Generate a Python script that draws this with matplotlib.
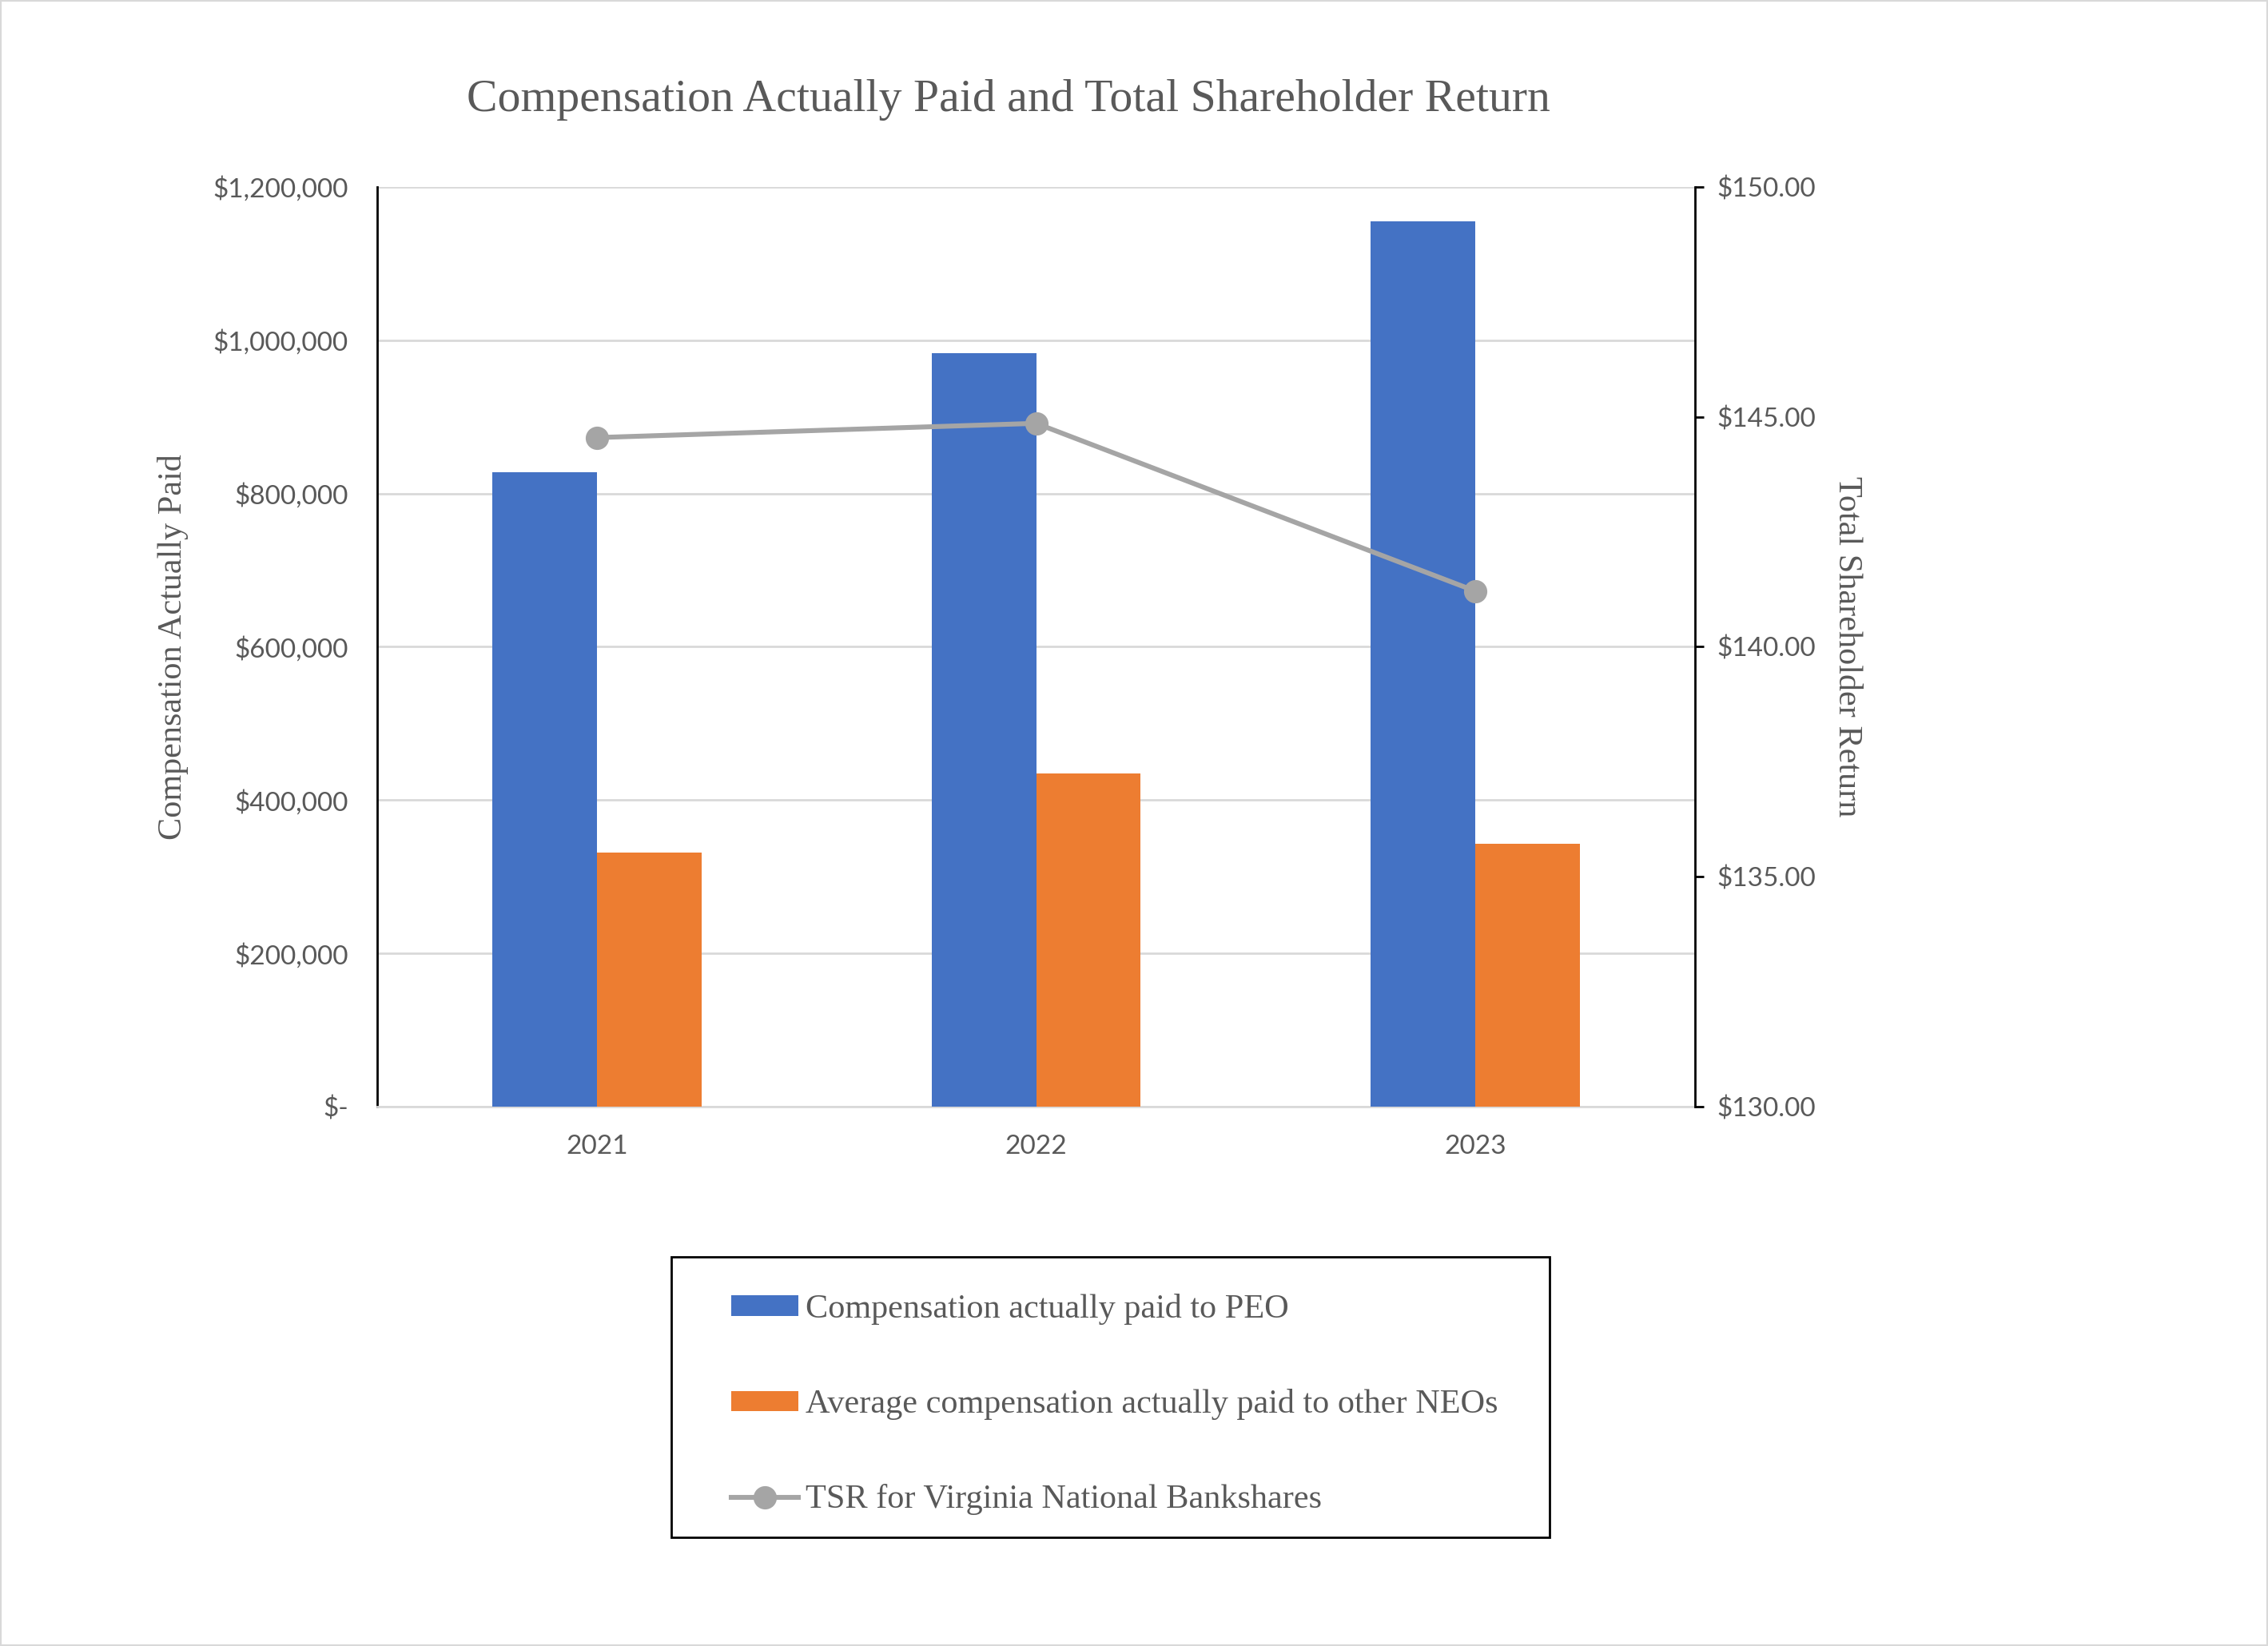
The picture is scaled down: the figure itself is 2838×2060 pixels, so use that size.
import matplotlib
matplotlib.use("Agg")
import matplotlib.pyplot as plt
import numpy as np
from matplotlib.patches import Rectangle, Patch
from matplotlib.lines import Line2D
from matplotlib.ticker import FuncFormatter

years = ["2021", "2022", "2023"]
peo_cap = [828000, 983000, 1155000]
neo_avg_cap = [332000, 435000, 343000]
tsr = [144.55, 144.86, 141.21]

left_ticks = [0, 200000, 400000, 600000, 800000, 1000000, 1200000]
right_ticks = [130, 135, 140, 145, 150]

BLUE = "#4472C4"
ORANGE = "#ED7D31"
GRAY = "#A5A5A5"
TXT = "#595959"
GRID = "#D9D9D9"
SERIF = ["Liberation Serif", "DejaVu Serif"]
SANS = ["Lato", "DejaVu Sans"]

fig = plt.figure(figsize=(2838 / 200, 2060 / 200), dpi=200)
fig.patch.set_facecolor("white")
fig.patches.append(Rectangle((0, 0), 1, 1, transform=fig.transFigure, fill=False,
                             edgecolor=GRID, linewidth=1.5))

ax = fig.add_axes([0.1663, 0.3277, 0.7474 - 0.1663, 0.8864 - 0.3277])
x = np.arange(len(years))
w = 0.238
ax.bar(x - w / 2, peo_cap, width=w, color=BLUE, zorder=3)
ax.bar(x + w / 2, neo_avg_cap, width=w, color=ORANGE, zorder=3)
ax.set_xlim(-0.5, 2.5)
ax.set_ylim(0, 1200000)
ax.set_yticks(left_ticks)
ax.yaxis.set_major_formatter(FuncFormatter(lambda v, p: "$-" if v == 0 else "${:,.0f}".format(v)))
ax.set_xticks(x)
ax.set_xticklabels(years)
ax.grid(axis="y", color=GRID, linewidth=1.0, zorder=0)
ax.set_axisbelow(True)
for s in ["top", "right"]:
    ax.spines[s].set_visible(False)
ax.spines["left"].set_color("black")
ax.spines["left"].set_linewidth(1.0)
ax.spines["bottom"].set_color(GRID)
ax.spines["bottom"].set_linewidth(1.0)
ax.tick_params(axis="y", length=0, pad=13, labelsize=12, labelcolor=TXT)
ax.tick_params(axis="x", length=0, pad=12.5, labelsize=12, labelcolor=TXT)
for lab in ax.get_xticklabels() + ax.get_yticklabels():
    lab.set_family(SANS)
ax.set_ylabel("Compensation Actually Paid", family=SERIF, fontsize=15.2, color=TXT, labelpad=11)

ax2 = ax.twinx()
ax2.plot(x, tsr, color=GRAY, linewidth=2.2, marker="o", markersize=9.5, zorder=5)
ax2.set_ylim(130, 150)
ax2.set_yticks(right_ticks)
ax2.yaxis.set_major_formatter(FuncFormatter(lambda v, p: "${:,.2f}".format(v)))
for s in ["top", "left", "bottom"]:
    ax2.spines[s].set_visible(False)
ax2.spines["right"].set_color("black")
ax2.spines["right"].set_linewidth(1.0)
ax2.tick_params(axis="y", length=4, width=1.0, color="black", pad=6, labelsize=12, labelcolor=TXT)
for lab in ax2.get_yticklabels():
    lab.set_family(SANS)
    lab.set_va("center_baseline")
ax2.set_ylabel("Total Shareholder Return", family=SERIF, fontsize=15.2, color=TXT,
               rotation=270, labelpad=21)

fig.text(0.4447, 0.9395, "Compensation Actually Paid and Total Shareholder Return",
         family=SERIF, fontsize=20.8, color=TXT, ha="center", va="center")

# legend frame
x0, x1 = 840 / 2838, 1939 / 2838
y0, y1 = 1 - 1924 / 2060, 1 - 1573 / 2060
fig.patches.append(Rectangle((x0, y0), x1 - x0, y1 - y0, transform=fig.transFigure,
                             fill=False, edgecolor="black", linewidth=1.0))
handles = [Patch(facecolor=BLUE), Patch(facecolor=ORANGE),
           Line2D([0], [0], color=GRAY, linewidth=2.2, marker="o", markersize=9.5)]
labels = ["Compensation actually paid to PEO",
          "Average compensation actually paid to other NEOs",
          "TSR for Virginia National Bankshares"]
leg = fig.legend(handles, labels, loc="upper left",
                 bbox_to_anchor=(915 / 2838, 1 - 1619 / 2060), frameon=False,
                 prop={"family": SERIF, "size": 15.2}, labelcolor=TXT,
                 handlelength=2.0, handleheight=0.55, handletextpad=0.2,
                 labelspacing=1.9, borderpad=0, borderaxespad=0)

fig.savefig("out.png", dpi=200, facecolor="white")
